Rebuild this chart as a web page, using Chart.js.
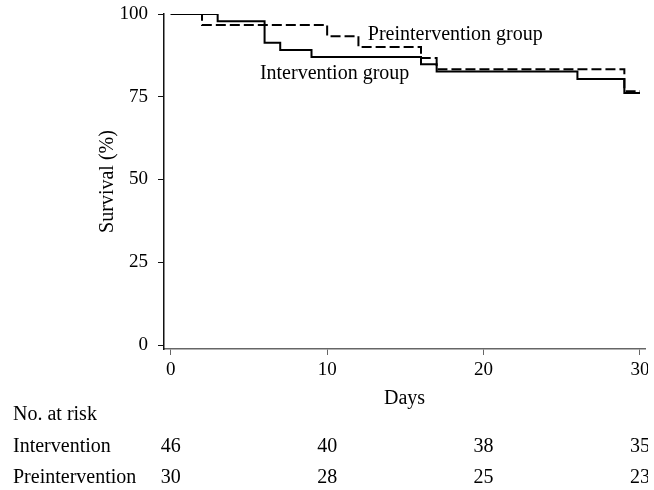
<!DOCTYPE html>
<html lang="en">
<head>
    <meta charset="UTF-8">
    <title>Survival by group</title>
    <script src="https://cdn.jsdelivr.net/npm/chart.js"></script>
    <style>
        html, body { margin: 0; padding: 0; background: #fff; }
        #wrap { width: 648px; height: 490px; }
    </style>
</head>
<body>
    <div id="wrap"><canvas id="km" width="648" height="490"></canvas></div>

    <script>
        // Kaplan-Meier steps
        const interventionDays = [0, 3, 6, 7, 9, 16, 17, 26, 29, 30];
        const interventionSurv = [100, 97.8, 91.3, 89.1, 87.0, 84.8, 82.6, 80.4, 76.1, 76.1];
        const preDays = [0, 2, 10, 12, 16, 17, 29, 30];
        const preSurv = [100, 96.7, 93.3, 90.0, 86.7, 83.3, 76.7, 76.7];

        const xTicks = [0, 10, 20, 30];
        const yTicks = [0, 25, 50, 75, 100];

        // No. at risk table
        const riskDays = [0, 10, 20, 30];
        const riskIntervention = [46, 40, 38, 35];
        const riskPre = [30, 28, 25, 23];

        const serif = '"Liberation Serif", "Times New Roman", serif';
        const ink = '#000';

        const toPoints = (days, vals) => days.map((d, i) => ({ x: d, y: vals[i] }));

        // text on the plot and the risk table under it
        const annotate = {
            id: 'annotate',
            afterDraw(chart) {
                const { ctx, scales: { x, y } } = chart;
                ctx.save();
                ctx.fillStyle = ink;
                ctx.font = '20px ' + serif;
                ctx.textBaseline = 'alphabetic';
                ctx.textAlign = 'left';
                ctx.fillText('Preintervention group', x.getPixelForValue(12.6), y.getPixelForValue(92.1));
                ctx.fillText('Intervention group', x.getPixelForValue(5.7), y.getPixelForValue(80.4));

                ctx.fillText('No. at risk', 13, 420);
                ctx.fillText('Intervention', 13, 452);
                ctx.fillText('Preintervention', 13, 483);

                ctx.textAlign = 'center';
                riskDays.forEach((d, i) => {
                    const px = x.getPixelForValue(d);
                    ctx.fillText(String(riskIntervention[i]), px, 452);
                    ctx.fillText(String(riskPre[i]), px, 483);
                });
                ctx.restore();
            }
        };

        const ctx = document.getElementById('km').getContext('2d');
        new Chart(ctx, {
            type: 'line',
            data: {
                datasets: [
                    {
                        label: 'Intervention group',
                        data: toPoints(interventionDays, interventionSurv),
                        stepped: true,
                        borderColor: '#000',
                        borderWidth: 2,
                        pointRadius: 0,
                        fill: false
                    },
                    {
                        label: 'Preintervention group',
                        data: toPoints(preDays, preSurv),
                        stepped: true,
                        borderColor: '#000',
                        borderWidth: 2,
                        borderDash: [10, 4],
                        pointRadius: 0,
                        fill: false
                    }
                ]
            },
            options: {
                responsive: false,
                animation: false,
                layout: { padding: { left: 96, right: 3, top: 14, bottom: 79 } },
                plugins: {
                    legend: { display: false },
                    tooltip: { enabled: false }
                },
                scales: {
                    x: {
                        type: 'linear',
                        min: -0.43,
                        max: 30.32,
                        afterBuildTicks: s => { s.ticks = xTicks.map(v => ({ value: v })); },
                        afterFit: s => { s.height = 62; s.paddingLeft = 0; s.paddingRight = 0; },
                        grid: { drawOnChartArea: false, drawTicks: true, tickLength: 6, color: '#666' },
                        border: { display: true, color: '#666', width: 1.5 },
                        ticks: { autoSkip: false, maxRotation: 0, padding: 4, color: ink, font: { family: serif, size: 19 } },
                        title: { display: true, text: 'Days', color: ink, padding: 0, font: { family: serif, size: 20 } }
                    },
                    y: {
                        min: -1.2,
                        max: 100,
                        afterBuildTicks: s => { s.ticks = yTicks.map(v => ({ value: v })); },
                        afterFit: s => { s.width = 68; s.paddingTop = 0; s.paddingBottom = 0; },
                        grid: { drawOnChartArea: false, drawTicks: true, tickLength: 6, color: '#111' },
                        border: { display: true, color: '#111', width: 1.5 },
                        ticks: { padding: 10, color: ink, font: { family: serif, size: 19 } },
                        title: { display: true, text: 'Survival (%)', color: ink, padding: 0, font: { family: serif, size: 20 } }
                    }
                }
            },
            plugins: [annotate]
        });
    </script>
</body>
</html>
